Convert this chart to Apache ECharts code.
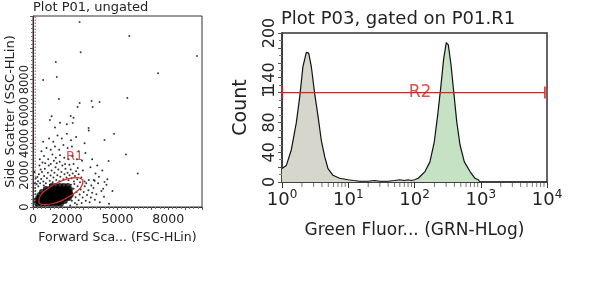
<!DOCTYPE html>
<html><head><meta charset="utf-8">
<script src="https://cdn.jsdelivr.net/npm/echarts@6/dist/echarts.min.js"></script>
<style>html,body{margin:0;padding:0;background:#fff}#c{width:600px;height:300px}</style>
</head><body><div id="c"></div>
<script>
const FONT = 'DejaVu Sans';
// ---------- Left plot: scatter ----------
const scatterTitle = 'Plot P01, ungated';
const fscName = 'Forward Sca... (FSC-HLin)';
const sscName = 'Side Scatter (SSC-HLin)';
const fscTickLabels = [0, 2000, 5000, 8000];
const sscTickLabels = [0, 2000, 4000, 6000, 8000];
const corePoints = [
  [250,200],[480,200],[700,200],[950,200],[1180,200],[1400,200],[1650,200],
  [250,380],[480,380],[700,380],[950,380],[1180,380],[1400,380],[1650,380],[1880,380],
  [300,560],[530,560],[760,560],[1000,560],[1230,560],[1470,560],[1700,560],[1940,560],[2120,560],
  [400,750],[650,750],[880,750],[1120,750],[1350,750],[1590,750],[1820,750],[2060,750],[2230,750],
  [530,940],[760,940],[1000,940],[1230,940],[1470,940],[1700,940],[1940,940],[2180,940],
  [760,1130],[1000,1130],[1230,1130],[1470,1130],[1700,1130],[1940,1130],[2180,1130],
  [1120,1320],[1350,1320],[1590,1320],[1820,1320],[2060,1320],
  [360,300],[590,290],[820,300],[1060,290],[1290,300],[1530,290],[360,470],[600,470],[830,470],[1070,470],[1300,470],[1540,470],[1770,470],
  [640,650],[880,650],[1120,650],[1360,650],[1600,650],[1830,650],[2050,650],
  [760,840],[1000,840],[1240,840],[1480,840],[1720,840],[1960,840],[2150,840],
  [880,1030],[1120,1030],[1360,1030],[1600,1030],[1840,1030],[2060,1030]
];
const sprayPoints = [
  [220,1450],[300,1620],[260,1880],[350,2050],[420,1500],[480,1760],[530,2200],[610,1600],[660,1950],[700,2400],
  [760,1500],[820,1800],[880,2150],[930,2600],[990,1650],[1040,1980],[1100,2300],[1160,1560],[1210,1850],[1270,2150],
  [1330,2500],[1380,1700],[1440,2000],[1500,2350],[1560,1620],[1620,1900],[1680,2200],[1740,2600],[1800,1750],[1860,2050],
  [1920,2400],[1980,1850],[2040,2150],[2100,1680],[2160,2000],[2230,2350],[2290,1800],[2350,2100],[2420,1600],[2480,1950],
  [2550,2250],[2620,1750],[2700,2050],[2780,1550],[380,2600],[560,2800],[450,2350],[720,2750],[1050,2700],[1230,2900],
  [1400,2750],[1580,2850],[1900,2700],[2150,2650],[2400,2700],[2650,2450],[310,1300],[640,1350],[1000,1400],[2860,1850],
  [2950,2300],[3050,1600],
  [2300,400],[2350,800],[2400,1150],[2480,250],[2520,620],[2580,950],[2640,1300],[2700,420],[2760,780],[2820,1100],
  [2880,250],[2940,600],[3000,950],[3060,1300],[3120,400],[3200,750],[3280,1050],[3350,300],[3420,600],[3500,900],
  [3580,1200],[3660,450],[3750,800],[3850,1500],[3950,300],[4050,1000],[4200,650],[4350,1400],[4500,200],[2250,1400],
  [2200,100],[2450,1450],[2600,150],[3150,1500],[3300,1700],[3450,1350],[3650,1650],[3900,1900],[4150,1150],[4400,1750],
  [4700,1000],[3700,2100],[120,300],[150,800],[130,1200],[180,100],[100,500],[140,1000],[110,1500],[160,1800],[90,2200],
  [400,3000],[650,3200],[900,3000],[1150,3300],[1350,3100],[1600,3250],[1850,3100],[2100,3000],[2350,3200],[2600,3000],
  [2900,2900],[500,3500],[800,3700],[1050,3600],[1300,3800],[1550,3600],[1800,3900],[2050,3700],[2300,3800],[2700,3500],
  [3100,3400],[600,4100],[950,4300],[1200,4100],[1450,4500],[1700,4300],[2000,4600],[2250,4200],[2550,4400],[3050,4000],
  [3300,4800],[1300,5000],[1600,5300],[2000,5200],[2400,5600],[1100,5700],[3500,3000],[3800,2600],[4100,2300],[3400,2500]
];
const outlierPoints = [
  [2760,11620],[5700,10740],[2820,9730],[9700,9490],[1350,9110],[7400,8410],[600,7980],[1410,8160],[1530,6780],[2760,6530],
  [2640,6280],[3470,6660],[3940,6590],[3530,6280],[5580,6850],[2230,5710],[1000,5460],[2350,5280],[3290,4960],[4230,4210],
  [4470,2890],[3590,1700],[4230,1570],[5500,3300],[6200,2100],[4800,4600]
];
const gateR1 = [
  [2950,1690],[2658,1848],[2096,1778],[1415,1500],[796,1088],[406,652],[350,310],[642,152],[1204,222],[1885,500],[2504,912],[2894,1348],[2950,1690]
];
const gateR1Label = [[2470,3140]];
const thresholdLine = [[130,0],[130,12000]];

// ---------- Right plot: histogram ----------
const histTitle = 'Plot P03, gated on P01.R1';
const grnName = 'Green Fluor... (GRN-HLog)';
const countName = 'Count';
const countTickLabels = {0:'0', 40:'40', 80:'80', 120:'1', 140:'140', 200:'200'};
const grayHist = [
  [1,18],[1.07,20],[1.16,22],[1.38,43],[1.64,79],[1.85,114],[2.07,155],[2.33,174],[2.53,173],[2.77,155],
  [3.11,119],[3.5,88],[3.92,56],[4.41,34],[4.95,18],[5.88,9],[7.4,5],[9.9,3],[12,2],[15,1],
  [20,1],[25,2],[30,1],[40,1],[50,2],[60,3],[70,2],[80,3],[90,2],[100,3]
];
const greenHist = [
  [100,3],[114,5],[144,14],[171,27],[199,54],[224,90],[251,130],[276,166],[302,187],[324,184],
  [356,157],[391,121],[434,81],[486,50],[565,27],[689,14],[819,5],[918,3],[975,0]
];
const markerR2 = [[1,120],[9300,120]];
const markerR2Label = [[121,120]];
const logMinorTicks = [2,3,4,5,6,7,8,9,20,30,40,50,60,70,80,90,200,300,400,500,600,700,800,900,2000,3000,4000,5000,6000,7000,8000,9000];

const chart = echarts.init(document.getElementById('c'), null, {renderer:'canvas'});
const txt = '#222';
chart.setOption({
  animation: false,
  backgroundColor: '#fff',
  title: [
    {text: scatterTitle, left: 33, top: 1, padding: 0, textStyle: {fontFamily: FONT, fontSize: 13, fontWeight: 'normal', color: txt}},
    {text: histTitle, left: 281, top: 10, padding: 0, textStyle: {fontFamily: FONT, fontSize: 18, fontWeight: 'normal', color: txt}}
  ],
  grid: [
    {left: 33, top: 16, width: 169, height: 191, show: true, borderColor: '#333', borderWidth: 1},
    {left: 282, top: 33, width: 265, height: 149, show: true, borderColor: '#333', borderWidth: 1.5}
  ],
  xAxis: [
    {gridIndex: 0, type: 'value', min: 0, max: 10000, interval: 1000,
     name: fscName, nameLocation: 'middle', nameGap: 23,
     nameTextStyle: {fontFamily: FONT, fontSize: 12.5, color: txt},
     axisLine: {lineStyle: {color: '#333'}},
     axisTick: {length: 3, lineStyle: {color: '#555'}},
     minorTick: {show: true, splitNumber: 4, length: 2, lineStyle: {color: '#777'}},
     splitLine: {show: false},
     axisLabel: {fontFamily: FONT, fontSize: 12.5, color: txt, margin: 6,
       formatter: v => fscTickLabels.includes(v) ? String(v) : ''}},
    {gridIndex: 1, type: 'log', min: 1, max: 10000, logBase: 10,
     name: grnName, nameLocation: 'middle', nameGap: 40,
     nameTextStyle: {fontFamily: FONT, fontSize: 17, color: txt},
     axisLine: {lineStyle: {color: '#333', width: 1.5}},
     axisTick: {length: 6, lineStyle: {color: '#333'}},
     splitLine: {show: false},
     axisLabel: {margin: 7, formatter: v => '{b|10}{s|' + Math.round(Math.log10(v)) + '}',
       rich: {b: {fontFamily: FONT, fontSize: 18, color: txt},
              s: {fontFamily: FONT, fontSize: 12, color: txt, verticalAlign: 'top', padding: [0,0,10,0]}}}}
  ],
  yAxis: [
    {gridIndex: 0, type: 'value', min: 0, max: 12000, interval: 2000,
     name: sscName, nameLocation: 'middle', nameGap: 16, nameRotate: 90,
     nameTextStyle: {fontFamily: FONT, fontSize: 13, color: txt},
     axisLine: {show: true, lineStyle: {color: '#333'}},
     axisTick: {length: 3, lineStyle: {color: '#555'}},
     minorTick: {show: true, splitNumber: 8, length: 2, lineStyle: {color: '#777'}},
     splitLine: {show: false},
     axisLabel: {fontFamily: FONT, fontSize: 11.5, color: txt, rotate: 90, margin: 2,
       formatter: v => sscTickLabels.includes(v) ? String(v) : ''}},
    {gridIndex: 1, type: 'value', min: 0, max: 200, interval: 20,
     name: countName, nameLocation: 'middle', nameGap: 31, nameRotate: 90,
     nameTextStyle: {fontFamily: FONT, fontSize: 19, color: txt},
     axisLine: {show: true, lineStyle: {color: '#333', width: 1.5}},
     axisTick: {length: 4, lineStyle: {color: '#555'}},
     minorTick: {show: true, splitNumber: 2, length: 3, lineStyle: {color: '#777'}},
     splitLine: {show: false},
     axisLabel: {fontFamily: FONT, fontSize: 16, color: txt, rotate: 90, margin: 4,
       formatter: v => (countTickLabels[v] !== undefined ? countTickLabels[v] : '')}}
  ],
  series: [
    {type: 'scatter', xAxisIndex: 0, yAxisIndex: 0, data: corePoints, symbolSize: 6, itemStyle: {color: '#000'}},
    {type: 'scatter', xAxisIndex: 0, yAxisIndex: 0, data: sprayPoints, symbolSize: 2, itemStyle: {color: '#000'}},
    {type: 'scatter', xAxisIndex: 0, yAxisIndex: 0, data: outlierPoints, symbolSize: 2, itemStyle: {color: '#111'}},
    {type: 'line', xAxisIndex: 0, yAxisIndex: 0, data: thresholdLine, symbol: 'none',
     lineStyle: {color: '#c04848', width: 1, type: [1.5, 1.5]}},
    {type: 'line', xAxisIndex: 0, yAxisIndex: 0, data: gateR1, symbol: 'none', smooth: 0.5,
     lineStyle: {color: '#d82828', width: 1.2}},
    {type: 'scatter', xAxisIndex: 0, yAxisIndex: 0, data: gateR1Label, symbolSize: 0,
     label: {show: true, position: 'inside', formatter: 'R1', fontFamily: FONT, fontSize: 13, color: '#d02828'}},
    // histogram
    {type: 'line', xAxisIndex: 1, yAxisIndex: 1, data: grayHist, symbol: 'none',
     lineStyle: {color: '#111', width: 1.2}, areaStyle: {color: '#d6d6cc', opacity: 1}},
    {type: 'line', xAxisIndex: 1, yAxisIndex: 1, data: greenHist, symbol: 'none',
     lineStyle: {color: '#111', width: 1.2}, areaStyle: {color: '#c6e2c4', opacity: 1}},
    {type: 'scatter', xAxisIndex: 1, yAxisIndex: 1, data: logMinorTicks.map(v => [v, 0]), symbol: 'rect',
     symbolSize: [1, 4], symbolOffset: [0, 3], clip: false, itemStyle: {color: '#555'}},
    {type: 'line', xAxisIndex: 1, yAxisIndex: 1, data: markerR2, symbol: 'rect', symbolSize: [1.5, 12], showSymbol: true,
     lineStyle: {color: '#e02020', width: 1.2}, itemStyle: {color: '#e02020'}},
    {type: 'scatter', xAxisIndex: 1, yAxisIndex: 1, data: markerR2Label, symbolSize: 0,
     label: {show: true, position: 'inside', formatter: 'R2', fontFamily: FONT, fontSize: 17, color: '#e02020'}}
  ]
});
</script></body></html>
